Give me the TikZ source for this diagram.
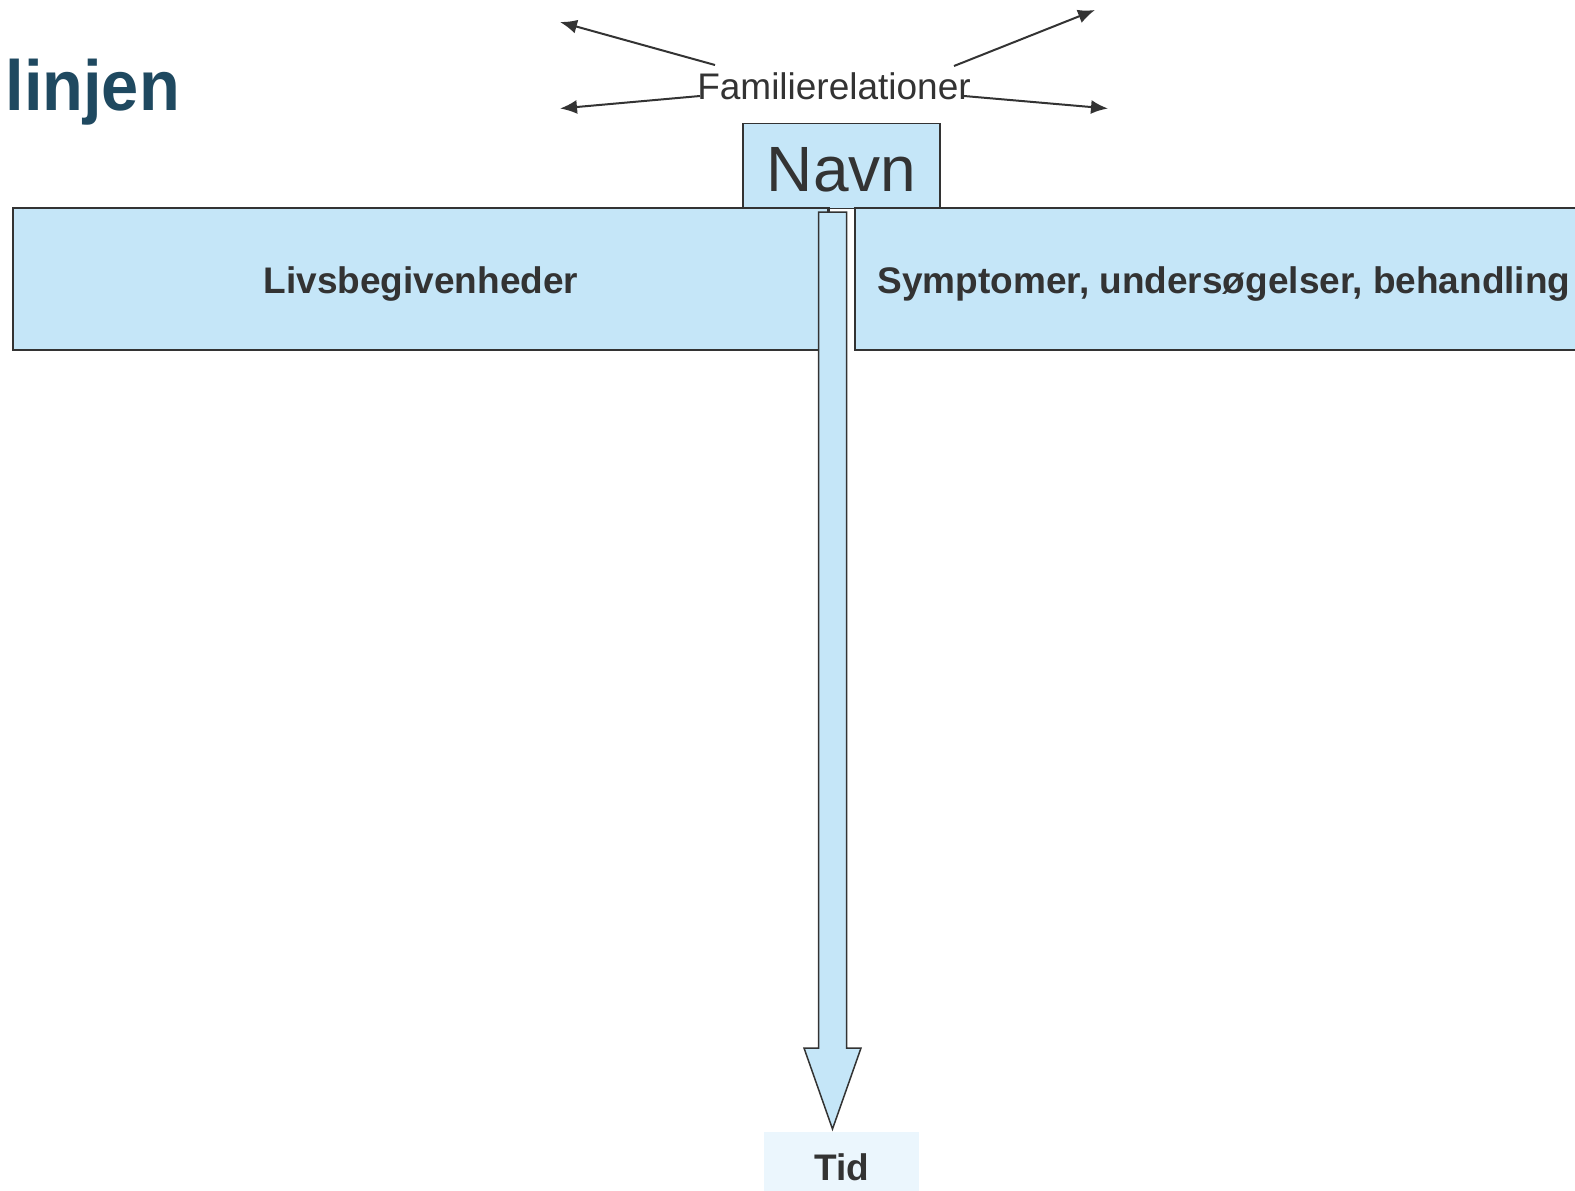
\documentclass[tikz,border=0pt]{standalone}
\usepackage{fontspec}
\usepackage{graphicx}
\setmainfont{Liberation Sans}
\usetikzlibrary{arrows.meta}
\definecolor{boxblue}{RGB}{197,230,248}
\definecolor{tidblue}{RGB}{235,246,253}
\definecolor{ink}{RGB}{51,51,51}
\definecolor{titleblue}{RGB}{31,73,96}
\begin{document}
\begin{tikzpicture}[x=1pt,y=-1pt,
  box/.style={draw=ink, fill=boxblue, line width=1.5pt, inner sep=0pt, text=ink},
  lbl/.style={font=\fontsize{37}{44}\selectfont\bfseries, text=ink, text height=28pt, text depth=0pt},
  rel/.style={draw=ink, line width=2pt, -{Latex[length=17pt,width=14pt]}}]
\useasboundingbox (0,0) rectangle (1575,1191);
\clip (0,0) rectangle (1575,1191);
% title
\node[anchor=base east, font=\fontsize{71}{80}\selectfont\bfseries, text=titleblue, inner sep=0pt] (title) at (180,110) {\scalebox{0.94}[1]{linjen}};
% family relations
\node[anchor=base, font=\fontsize{37}{44}\selectfont, text=ink, inner sep=0pt] (fam) at (834,99.5) {Familierelationer};
\coordinate (ul) at (715,65);   \coordinate (ultip) at (560,22);
\coordinate (ur) at (954,66);   \coordinate (urtip) at (1095,10);
\coordinate (ll) at (700,96);   \coordinate (lltip) at (560,108.5);
\coordinate (lr) at (964,96);   \coordinate (lrtip) at (1108,108.5);
\draw[rel] (ul) -- (ultip);
\draw[rel] (ur) -- (urtip);
\draw[rel] (ll) -- (lltip);
\draw[rel] (lr) -- (lrtip);
% name
\node[box, minimum width=197pt, minimum height=85pt, text height=50pt, text depth=0pt, font=\fontsize{64}{72}\selectfont] (navn) at (841.5,166) {Navn};
% two bands
\node[box, lbl, minimum width=816pt, minimum height=142pt] (liv) at (421,279) {Livsbegivenheder};
\node[box, lbl, minimum width=738pt, minimum height=142pt] (sym) at (1224,279) {Symptomer, undersøgelser, behandling};
% time arrow
\coordinate (ticktop) at (828,208);
\coordinate (tickbot) at (828,212);
\draw[draw=ink, line width=1.5pt] (ticktop) -- (tickbot);
\coordinate (tip) at (832.5,1129);
\draw[box, line join=miter] (818.5,212) -- (846.5,212) -- (846.5,1048) -- (861,1048) -- (tip) -- (804,1048) -- (818.5,1048) -- cycle;
\node[fill=tidblue, lbl, text height=37pt, minimum width=155pt, minimum height=59pt, inner sep=0pt] (tid) at (841.5,1161.5) {Tid};
\end{tikzpicture}
\end{document}
